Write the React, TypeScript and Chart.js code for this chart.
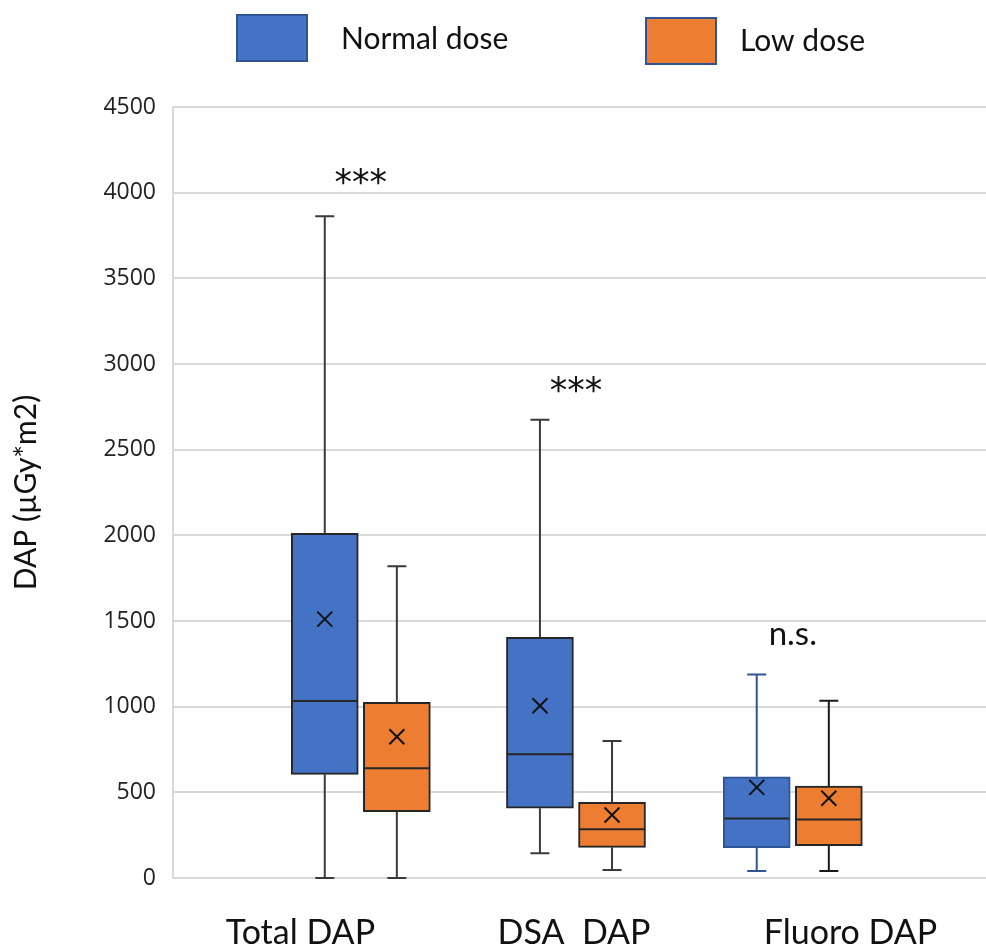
import React, { useEffect, useRef } from "react";
import { Chart, registerables } from "chart.js";

Chart.register(...registerables);

// ---- data ----
const categories = ["Total DAP", "DSA  DAP", "Fluoro DAP"];
const seriesLabels = ["Normal dose", "Low dose"];

const normalMin = [0, 144, 41];
const normalQ1 = [605, 407, 177];
const normalMedian = [1033, 723, 348];
const normalQ3 = [2011, 1404, 591];
const normalMax = [3862, 2675, 1188];
const normalMean = [1511, 1005, 529];

const lowMin = [0, 47, 41];
const lowQ1 = [387, 179, 188];
const lowMedian = [640, 284, 342];
const lowQ3 = [1025, 442, 537];
const lowMax = [1820, 799, 1034];
const lowMean = [824, 368, 465];

const significance = ["***", "***", "n.s."];
const significanceY = [3990, 2780, 1359];

const yTicksMax = 4500;
const yTickStep = 500;

// ---- layout / style constants ----
const groupX = [0.693, 1.487, 2.287];
const boxOffset = 0.133;
const categoryTickX = [0.47, 1.48, 2.5];
const BLUE = "#4472C4";
const ORANGE = "#ED7D31";
const DARK = "#262626";
const BLUE_EDGE = "#2F5597";
const normalEdge = [DARK, DARK, BLUE_EDGE];
const lowEdge = [DARK, DARK, DARK];
const normalWhisker = ["#3a3a3a", "#3a3a3a", BLUE_EDGE];
const lowWhisker = ["#3a3a3a", "#3a3a3a", "#1a1a1a"];

const legendLayout = [
  { x: 237, y: 15, w: 70, h: 46, tx: 341, ty: 39 },
  { x: 646, y: 18, w: 70, h: 46, tx: 740, ty: 41 },
];

const series = [
  { min: normalMin, q1: normalQ1, med: normalMedian, q3: normalQ3, max: normalMax, mean: normalMean, whisker: normalWhisker, shift: -boxOffset },
  { min: lowMin, q1: lowQ1, med: lowMedian, q3: lowQ3, max: lowMax, mean: lowMean, whisker: lowWhisker, shift: boxOffset },
];

const boxPlotPlugin = {
  id: "boxPlotExtras",
  afterDatasetsDraw(chart: any) {
    const ctx = chart.ctx;
    const xs = chart.scales.x;
    const ys = chart.scales.y;
    ctx.save();
    series.forEach((s, si) => {
      const meta = chart.getDatasetMeta(si);
      categories.forEach((_, i) => {
        const el = meta.data[i];
        const cx = xs.getPixelForValue(groupX[i] + s.shift);
        const half = el.width / 2;
        const cap = 9.5;
        ctx.strokeStyle = s.whisker[i];
        ctx.lineWidth = 2;
        ctx.beginPath();
        ctx.moveTo(cx, ys.getPixelForValue(s.max[i]));
        ctx.lineTo(cx, ys.getPixelForValue(s.q3[i]));
        ctx.moveTo(cx - cap, ys.getPixelForValue(s.max[i]));
        ctx.lineTo(cx + cap, ys.getPixelForValue(s.max[i]));
        ctx.moveTo(cx, ys.getPixelForValue(s.q1[i]));
        ctx.lineTo(cx, ys.getPixelForValue(s.min[i]));
        ctx.moveTo(cx - cap, ys.getPixelForValue(s.min[i]));
        ctx.lineTo(cx + cap, ys.getPixelForValue(s.min[i]));
        ctx.stroke();
        // median
        ctx.strokeStyle = DARK;
        ctx.beginPath();
        const my = ys.getPixelForValue(s.med[i]);
        ctx.moveTo(cx - half + 1, my);
        ctx.lineTo(cx + half - 1, my);
        ctx.stroke();
        // mean marker
        const mY = ys.getPixelForValue(s.mean[i]);
        const r = 7.5;
        ctx.strokeStyle = "#111";
        ctx.beginPath();
        ctx.moveTo(cx - r, mY - r);
        ctx.lineTo(cx + r, mY + r);
        ctx.moveTo(cx + r, mY - r);
        ctx.lineTo(cx - r, mY + r);
        ctx.stroke();
      });
    });
    // significance labels
    ctx.fillStyle = "#111";
    ctx.textAlign = "center";
    ctx.textBaseline = "alphabetic";
    significance.forEach((t, i) => {
      ctx.font = t === "n.s." ? "33px Lato" : "35px 'DejaVu Sans'";
      ctx.fillText(t, xs.getPixelForValue(groupX[i]), ys.getPixelForValue(significanceY[i]));
    });
    ctx.restore();
  },
};

const legendPlugin = {
  id: "boxLegend",
  afterDraw(chart: any) {
    const ctx = chart.ctx;
    ctx.save();
    chart.data.datasets.forEach((ds: any, i: number) => {
      const L = legendLayout[i];
      ctx.fillStyle = ds.backgroundColor;
      ctx.fillRect(L.x, L.y, L.w, L.h);
      ctx.strokeStyle = BLUE_EDGE;
      ctx.lineWidth = 2;
      ctx.strokeRect(L.x, L.y, L.w, L.h);
      ctx.fillStyle = "#111";
      ctx.font = "30px Lato";
      ctx.textAlign = "left";
      ctx.textBaseline = "middle";
      ctx.fillText(ds.label, L.tx, L.ty);
    });
    ctx.restore();
  },
};

export default function App() {
  const canvasRef = useRef<HTMLCanvasElement | null>(null);

  useEffect(() => {
    if (!canvasRef.current) return;
    const chart = new Chart(canvasRef.current, {
      type: "bar",
      data: {
        datasets: [
          {
            label: seriesLabels[0],
            data: categories.map((_, i) => ({ x: groupX[i] - boxOffset, y: [normalQ1[i], normalQ3[i]] })) as any,
            backgroundColor: BLUE,
            borderColor: normalEdge,
            borderWidth: 2,
            borderSkipped: false,
            barThickness: 67,
            grouped: false,
          },
          {
            label: seriesLabels[1],
            data: categories.map((_, i) => ({ x: groupX[i] + boxOffset, y: [lowQ1[i], lowQ3[i]] })) as any,
            backgroundColor: ORANGE,
            borderColor: lowEdge,
            borderWidth: 2,
            borderSkipped: false,
            barThickness: 67,
            grouped: false,
          },
        ],
      },
      options: {
        animation: false,
        responsive: true,
        maintainAspectRatio: false,
        layout: { padding: { top: 107, left: 0, right: 0, bottom: 0 } },
        plugins: {
          legend: { display: false },
          tooltip: { enabled: false },
        },
        scales: {
          x: {
            type: "linear",
            min: 0,
            max: 3,
            offset: false,
            grid: { display: false },
            border: { display: false },
            afterBuildTicks: (scale: any) => {
              scale.ticks = categoryTickX.map((v) => ({ value: v }));
            },
            afterFit: (scale: any) => {
              scale.height = 72;
            },
            ticks: {
              padding: 27,
              maxRotation: 0,
              autoSkip: false,
              color: "#111",
              font: { family: "Lato", size: 34 },
              callback: (_v: any, idx: number) => categories[idx],
            },
          },
          y: {
            min: 0,
            max: yTicksMax,
            grid: { color: "#d9d9d9", lineWidth: 2, drawTicks: false },
            border: { display: true, color: "#d9d9d9", width: 2 },
            afterFit: (scale: any) => {
              scale.width = 173;
            },
            ticks: {
              stepSize: yTickStep,
              padding: 17,
              color: "#222",
              font: { family: "Open Sans", size: 23 },
              callback: (v: any) => String(v),
            },
            title: {
              display: true,
              text: "DAP (µGy*m2)",
              color: "#111",
              padding: { top: 8, bottom: 0 },
              font: { family: "Lato", size: 30 },
            },
          },
        },
      },
      plugins: [boxPlotPlugin, legendPlugin],
    });
    return () => chart.destroy();
  }, []);

  return (
    <div style={{ position: "absolute", left: 0, top: 0, width: 986, height: 950 }}>
      <canvas ref={canvasRef} />
    </div>
  );
}
